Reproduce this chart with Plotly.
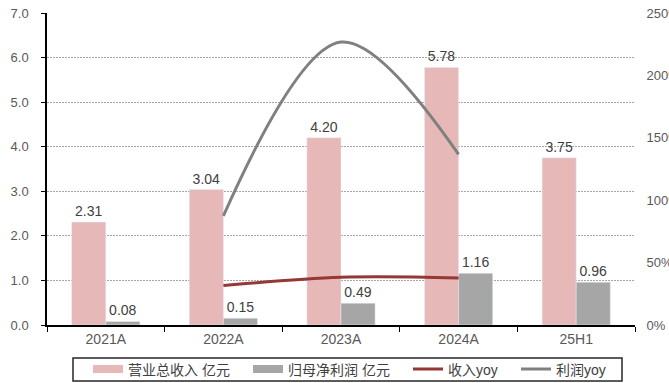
import plotly.graph_objects as go

# Annual revenue / net profit (亿元) and their year-on-year growth (%)
periods = ["2021A", "2022A", "2023A", "2024A", "25H1"]
revenue = [2.31, 3.04, 4.20, 5.78, 3.75]
net_profit = [0.08, 0.15, 0.49, 1.16, 0.96]
revenue_yoy = [None, 31.6, 38.2, 37.6, None]
profit_yoy = [None, 87.5, 226.7, 136.7, None]

left_ticks = [0, 1, 2, 3, 4, 5, 6, 7]
right_ticks = [0, 50, 100, 150, 200, 250]

PINK = "#E6B8B7"
GREY_BAR = "#A6A6A6"
RED_LINE = "#953735"
GREY_LINE = "#808080"
FONT = "Arial, 'Liberation Sans', 'Noto Sans CJK SC', sans-serif"

# Plot-area geometry in pixels (used to place the legend row in paper units)
W, H = 669, 383
M_L, M_R, M_T, M_B = 47, 34, 13, 58
PW = W - M_L - M_R
PH = H - M_T - M_B


def px_x(x):
    return (x - M_L) / PW


def px_y(y):
    return (H - M_B - y) / PH


fig = go.Figure()

fig.add_trace(go.Bar(
    x=periods, y=revenue, name="营业总收入 亿元", marker_color=PINK,
    texttemplate="%{y:.2f}", textposition="outside", cliponaxis=False,
    textfont=dict(size=14, color="#404040"), showlegend=False,
))
fig.add_trace(go.Bar(
    x=periods, y=net_profit, name="归母净利润 亿元", marker_color=GREY_BAR,
    texttemplate="%{y:.2f}", textposition="outside", cliponaxis=False,
    textfont=dict(size=14, color="#404040"), showlegend=False,
))
fig.add_trace(go.Scatter(
    x=periods, y=revenue_yoy, name="收入yoy", yaxis="y2", mode="lines",
    line=dict(color=RED_LINE, width=3, shape="spline"), showlegend=False,
))
fig.add_trace(go.Scatter(
    x=periods, y=profit_yoy, name="利润yoy", yaxis="y2", mode="lines",
    line=dict(color=GREY_LINE, width=3, shape="spline"), showlegend=False,
))

# Legend row: one legend per entry so each can be placed along the framed strip
legend_items = [
    ("营业总收入 亿元", PINK, 8, "legend", 88),
    ("归母净利润 亿元", GREY_BAR, 8, "legend2", 248),
    ("收入yoy", RED_LINE, 3, "legend3", 408),
    ("利润yoy", GREY_LINE, 3, "legend4", 516),
]
legend_layouts = {}
for name, color, width, lg, left in legend_items:
    fig.add_trace(go.Scatter(
        x=[None], y=[None], name=name, mode="lines", legend=lg,
        line=dict(color=color, width=width),
    ))
    legend_layouts[lg] = dict(
        orientation="h", x=px_x(left), xanchor="left",
        y=px_y(369.5), yanchor="middle",
        bgcolor="rgba(0,0,0,0)", borderwidth=0,
        font=dict(size=14, color="#404040"), itemwidth=30,
    )

fig.add_shape(
    type="rect", xref="paper", yref="paper",
    x0=px_x(73), x1=px_x(622), y0=px_y(381), y1=px_y(358),
    line=dict(color="#262626", width=1.5), fillcolor="rgba(0,0,0,0)",
)

fig.update_layout(
    width=W, height=H,
    margin=dict(l=M_L, r=M_R, t=M_T, b=M_B, autoexpand=False),
    paper_bgcolor="white", plot_bgcolor="white",
    font=dict(family=FONT, size=13, color="#595959"),
    barmode="group", bargap=0.42, bargroupgap=0,
    xaxis=dict(
        type="category", showline=True, linecolor="#000000", linewidth=1.5,
        ticks="outside", ticklen=5, tickcolor="#000000", tickson="boundaries",
        showgrid=False, tickfont=dict(size=14, color="#595959"),
    ),
    yaxis=dict(
        range=[0, 7], tickvals=left_ticks, tickformat=".1f",
        showline=True, linecolor="#000000", linewidth=1.5,
        ticks="outside", ticklen=4, tickcolor="#000000",
        showgrid=True, gridcolor="#A6A6A6", griddash="2px,1px", gridwidth=1,
        zeroline=False, ticklabelstandoff=10,
        tickfont=dict(size=13, color="#595959"),
    ),
    yaxis2=dict(
        overlaying="y", side="right", range=[0, 250], tickvals=right_ticks,
        ticktext=[f"{v}%" for v in right_ticks],
        showgrid=False, showline=False, zeroline=False,
        ticks="outside", ticklen=8, tickcolor="rgba(0,0,0,0)",
        tickfont=dict(size=13, color="#595959"),
    ),
    **legend_layouts,
)

fig.write_html("out.html")
